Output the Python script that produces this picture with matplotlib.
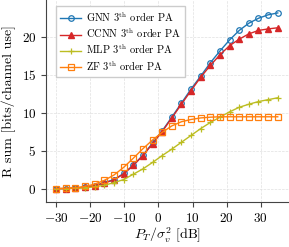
import matplotlib
matplotlib.use("Agg")
import matplotlib.pyplot as plt
import numpy as np

plt.rcParams['font.family'] = 'serif'
plt.rcParams['font.serif'] = ['cmr10', 'DejaVu Serif']
plt.rcParams['mathtext.fontset'] = 'cm'
plt.rcParams['axes.formatter.use_mathtext'] = True

snr = np.linspace(-30, 35, 24)

gnn = [0, 0.02, 0.08, 0.2, 0.4, 0.8, 1.2, 2.0, 3.1, 4.4, 6.0, 7.6, 9.4, 11.25,
       13.1, 14.8, 16.55, 18.1, 19.55, 20.8, 21.75, 22.4, 22.85, 23.1]
ccnn = [0, 0.02, 0.08, 0.2, 0.38, 0.75, 1.15, 1.95, 3.05, 4.35, 5.9, 7.5, 9.3, 11.1,
        12.9, 14.65, 16.2, 17.6, 18.8, 19.65, 20.35, 20.8, 21.0, 21.15]
mlp = [0, 0.02, 0.05, 0.12, 0.25, 0.45, 0.8, 1.2, 1.9, 2.6, 3.45, 4.35, 5.2, 6.1,
       7.0, 7.9, 8.7, 9.4, 10.1, 10.7, 11.1, 11.45, 11.7, 11.95]
zf = [0, 0.05, 0.12, 0.3, 0.6, 1.1, 1.8, 2.8, 4.0, 5.25, 6.4, 7.4, 8.25, 8.8,
      9.1, 9.3, 9.4, 9.45, 9.45, 9.45, 9.45, 9.45, 9.45, 9.45]

fig = plt.figure(figsize=(2.89, 2.47), dpi=100)
ax = fig.add_axes([46/289, 45/247, 1 - 46/289, 1 - 45/247])

ax.plot(snr, gnn, color='tab:blue', marker='o', ms=4, mfc='none', lw=1, mew=0.9,
        label=r'GNN 3$^{\rm th}$ order PA')
ax.plot(snr, ccnn, color='tab:red', marker='^', ms=4, lw=1,
        label=r'CCNN 3$^{\rm th}$ order PA')
ax.plot(snr, mlp, color='tab:olive', marker='+', ms=4.5, lw=1, mew=0.9,
        label=r'MLP 3$^{\rm th}$ order PA')
ax.plot(snr, zf, color='tab:orange', marker='s', ms=4, mfc='none', lw=1, mew=0.9,
        label=r'ZF 3$^{\rm th}$ order PA')

ax.set_xlim(-33, 38.3)
ax.set_ylim(-1.75, 24.8)
ax.set_xticks([-30, -20, -10, 0, 10, 20, 30])
ax.set_yticks([0, 5, 10, 15, 20])
ax.grid(True, ls='--', lw=0.5, color='#e0e0e0')
ax.spines['top'].set_visible(False)
ax.spines['right'].set_visible(False)
ax.spines['left'].set_color('#444444')
ax.spines['bottom'].set_color('#444444')
ax.tick_params(labelsize=9.5, length=3.5, color='#444444')

ax.set_xlabel(r'$P_T/\sigma_v^2$ [dB]', fontsize=10, labelpad=1)
ax.set_ylabel('R sum [bits/channel use]', fontsize=10)

ax.legend(loc='upper left', fontsize=7.5, fancybox=False, edgecolor='#cccccc',
          framealpha=1, handlelength=2, borderpad=0.4, labelspacing=0.25,
          handletextpad=0.5, bbox_to_anchor=(0.02, 0.995))

fig.savefig('out.png', dpi=100)
